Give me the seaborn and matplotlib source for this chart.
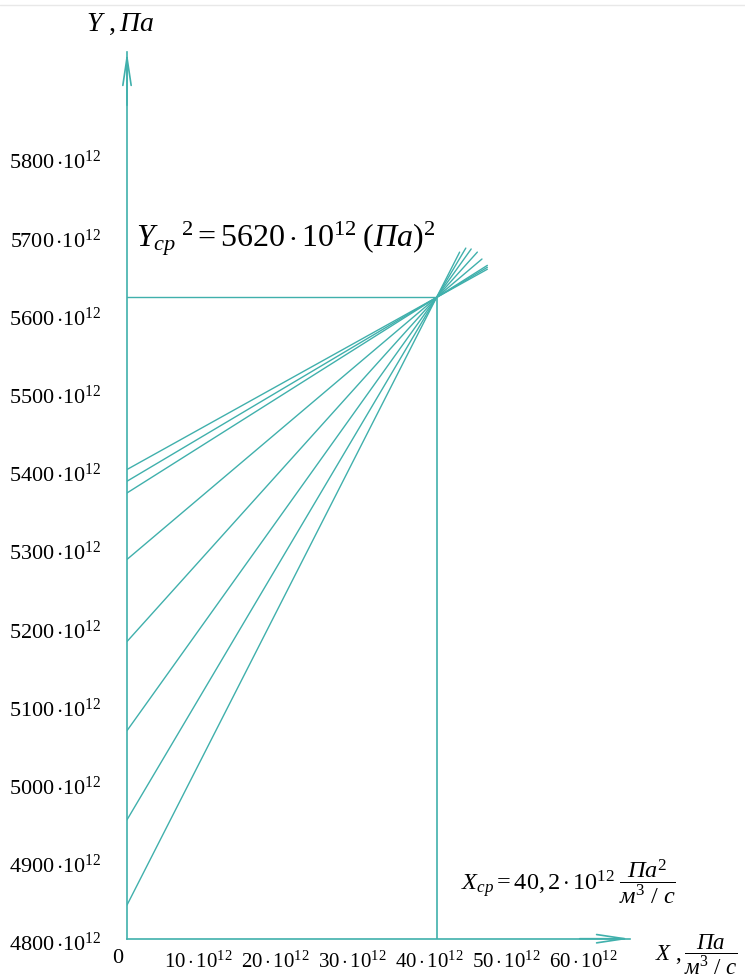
import numpy as np
import pandas as pd
import matplotlib
matplotlib.use("Agg")
import matplotlib.pyplot as plt
import matplotlib.transforms as mtransforms
from matplotlib.lines import Line2D
import seaborn as sns

# ---------------- data ----------------
x_mean = 40.2          # X_cp, 10^12 Pa^2/(m^3/s)
y_mean = 5620          # Y_cp^2, 10^12 Pa^2
intercepts = [5400, 5385, 5370, 5285, 5180, 5066, 4952, 4843]   # y at X = 0
line_ends_x = [46.8, 46.8, 46.8, 46.1, 45.5, 44.7, 44.0, 43.2]  # where each line stops
x_ticks = [10, 20, 30, 40, 50, 60]
x_tick_labels = [r"$%d\,{\cdot}\,10^{12}$" % v for v in x_ticks]
y_ticks = [4800, 4900, 5000, 5100, 5200, 5300, 5400, 5500, 5600, 5700, 5800]
y_tick_labels = [r"$%d\,{\cdot}10^{12}$" % v for v in y_ticks]

# ---------------- style ----------------
sns.set_theme(style="white")
plt.rcParams["font.family"] = ["Liberation Serif", "DejaVu Serif"]
plt.rcParams["mathtext.fontset"] = "custom"
plt.rcParams["mathtext.rm"] = "Liberation Serif"
plt.rcParams["mathtext.it"] = "Liberation Serif:italic"
plt.rcParams["mathtext.bf"] = "Liberation Serif:bold"
plt.rcParams["text.color"] = "black"
plt.rcParams["xtick.labelcolor"] = "black"
plt.rcParams["ytick.labelcolor"] = "black"
TEAL = "#40b0ac"

W, H = 745, 980
X0, Y0 = 127, 938.7          # origin in pixels (from top-left)
XR, YT = 630, 52             # arrow tips
PX_X, PX_Y = 7.7, 0.782      # pixels per data unit

fig = plt.figure(figsize=(W / 100, H / 100), dpi=100)
ax = fig.add_axes([X0 / W, (H - Y0) / H, (XR - X0) / W, (Y0 - YT) / H])
ax.set_xlim(0, (XR - X0) / PX_X)
ax.set_ylim(4800, 4800 + (Y0 - YT) / PX_Y)
ax.patch.set_alpha(0)

# lines through the mean point
rows = []
for i, (b, xe) in enumerate(zip(intercepts, line_ends_x)):
    slope = (y_mean - b) / x_mean
    rows.append({"line": i, "x": 0.0, "y": b})
    rows.append({"line": i, "x": xe, "y": b + slope * xe})
df = pd.DataFrame(rows)
sns.lineplot(data=df, x="x", y="y", units="line", estimator=None,
             color=TEAL, lw=1.0, ax=ax, legend=False)

# mean guide lines
ax.plot([0, x_mean], [y_mean, y_mean], color=TEAL, lw=1.0)
ax.plot([x_mean, x_mean], [4800, y_mean], color=TEAL, lw=1.2)

# axes
for s in ["top", "right"]:
    ax.spines[s].set_visible(False)
for s in ["left", "bottom"]:
    ax.spines[s].set_color(TEAL)
    ax.spines[s].set_linewidth(1.2)

ax.set_xticks(x_ticks)
ax.set_xticklabels(x_tick_labels, fontsize=15)
ax.set_yticks(y_ticks)
ax.set_yticklabels(y_tick_labels, fontsize=16)
ax.tick_params(axis="x", direction="in", length=8, width=1.0, color=TEAL, pad=9)
ax.tick_params(axis="y", direction="in", length=8.5, width=1.0, color=TEAL, pad=18.5)
ax.set_xlabel("")
ax.set_ylabel("")
down = mtransforms.ScaledTranslation(0, -2.5 / 72, fig.dpi_scale_trans)
for lab in ax.get_yticklabels():
    lab.set_transform(lab.get_transform() + down)
left = mtransforms.ScaledTranslation(-4 / 72, 0, fig.dpi_scale_trans)
for lab in ax.get_xticklabels():
    lab.set_transform(lab.get_transform() + left)

arrow = dict(arrowstyle="->,head_length=2.0,head_width=0.3", color=TEAL,
             lw=1.2, mutation_scale=10, shrinkA=0, shrinkB=0)
ax.annotate("", xy=(1, 0), xytext=(0.9, 0), xycoords="axes fraction",
            textcoords="axes fraction", arrowprops=arrow)
ax.annotate("", xy=(0, 1), xytext=(0, 0.94), xycoords="axes fraction",
            textcoords="axes fraction", arrowprops=arrow)

# texts
def ftext(px, py, s, **kw):
    fig.text(px / W, 1 - py / H, s, **kw)

ftext(118, 958, r"$0$", fontsize=16, ha="center", va="center")
ftext(120, 24, r"$Y\ ,Па$", fontsize=20, ha="center", va="center")
ftext(136, 246, r"$Y_{ср}{}^{\ 2} = 5620\,{\cdot}\,10^{12}\;(Па)^{2}$",
      fontsize=23, ha="left", va="baseline")
ftext(461, 882, r"$X_{ср} = 40,2\,{\cdot}\,10^{12}\;\dfrac{Па^{2}}{м^{3}\ /\ с}$",
      fontsize=17.5, ha="left", va="center")
ftext(655, 955, r"$X\ ,\dfrac{Па}{м^{3}\ /\ с}$",
      fontsize=16.5, ha="left", va="center")

fig.add_artist(Line2D([0, 1], [1 - 5 / H, 1 - 5 / H], color="#e8e8e8", lw=1.0))

fig.savefig("out.png", dpi=100)
